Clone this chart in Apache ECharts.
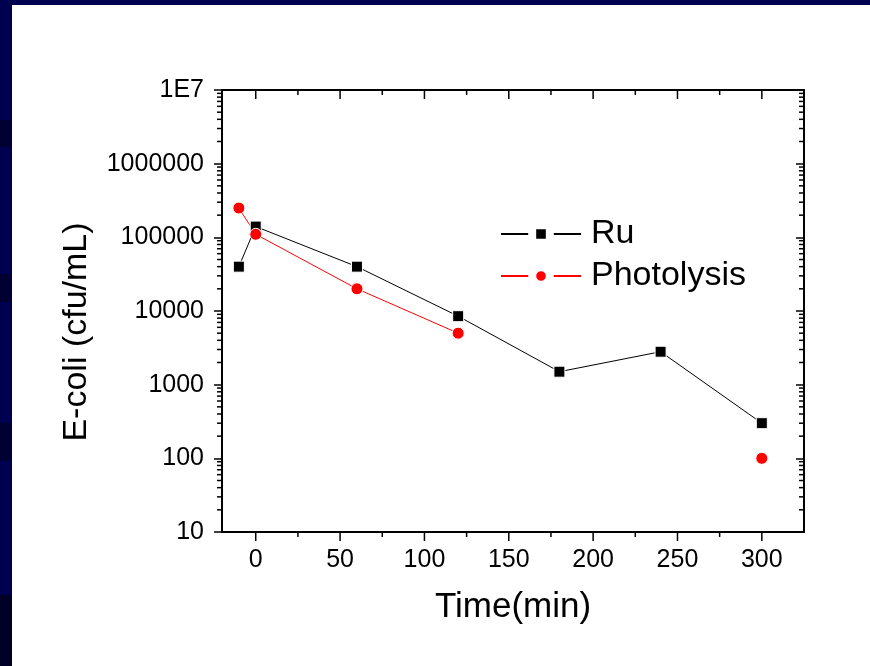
<!DOCTYPE html>
<html>
<head>
<meta charset="UTF-8">
<title>E-coli</title>
<script src="https://cdn.jsdelivr.net/npm/echarts@6/dist/echarts.min.js"></script>
<style>
html, body {
	margin: 0px;
	padding: 0px;
	width: 870px;
	height: 666px;
	overflow: hidden;
	background: #000050;
}
#panel {
	position: absolute;
	left: 12px;
	top: 5px;
	right: 0px;
	bottom: 0px;
	background: #ffffff;
}
.band {
	position: absolute;
	left: 0px;
	width: 12px;
	background: #000032;
}
#main {
	position: absolute;
	left: 0px;
	top: 0px;
	width: 870px;
	height: 666px;
}
</style>
</head>
<body>
<div class="band" style="top:120px;height:27px"></div>
<div class="band" style="top:274px;height:28px"></div>
<div class="band" style="top:423px;height:38px"></div>
<div class="band" style="top:595px;height:71px;background:#000026"></div>
<div id="panel"></div>
<div id="main"></div>
<script>
var times = [-10, 0, 60, 120, 180, 240, 300];
var ru = [40000, 140000, 40000, 8500, 1500, 2800, 300];
var photolysis = [250000, 110000, 20000, 5000, null, null, 100];

var yTickLabels = ['10', '100', '1000', '10000', '100000', '1000000', '1E7'];
var xMajorTicks = [0, 50, 100, 150, 200, 250, 300];
var xMinorTicks = [25, 75, 125, 175, 225, 275];
var decades = [10, 100, 1000, 10000, 100000, 1000000];
var minorSteps = [2, 3, 4, 5, 6, 7, 8, 9];

var font = "'Liberation Sans', Arial, sans-serif";

function pairs(ys) {
	return times.map(function (t, i) { return [t, ys[i]]; });
}

// minor ticks of the log axis (2..9 in each decade)
var yMinor = [];
decades.forEach(function (d) {
	minorSteps.forEach(function (m) { yMinor.push([0, d * m]); });
});

var xTicks = [];
xMajorTicks.forEach(function (t) { xTicks.push([t, 10, 9]); });
xMinorTicks.forEach(function (t) { xTicks.push([t, 10, 5]); });

function tickLine(x1, y1, x2, y2) {
	return { type: 'line', shape: { x1: x1, y1: y1, x2: x2, y2: y2 }, style: { stroke: '#000', lineWidth: 1.5 } };
}

var chart = echarts.init(document.getElementById('main'));
var option = {
	backgroundColor: 'transparent',
	animation: false,
	grid: { left: 222, top: 90, width: 582, height: 442 },
	legend: {
		data: ['Ru', 'Photolysis'],
		orient: 'vertical',
		left: 500,
		top: 217,
		padding: 0,
		itemWidth: 80,
		itemHeight: 22,
		itemGap: 8,
		selectedMode: false,
		itemStyle: { borderColor: '#fff', borderWidth: 8 },
		textStyle: { fontFamily: font, fontSize: 34, color: '#000', padding: [0, 0, 0, 5] }
	},
	xAxis: [{
		type: 'value',
		min: -20,
		max: 325,
		position: 'bottom',
		name: 'Time(min)',
		nameLocation: 'middle',
		nameGap: 58,
		nameTextStyle: { fontFamily: font, fontSize: 35, color: '#000' },
		axisLine: { onZero: false, lineStyle: { color: '#000', width: 2 } },
		axisTick: { show: false },
		splitLine: { show: false },
		axisLabel: { fontFamily: font, fontSize: 25, color: '#000', margin: 16, showMinLabel: false, showMaxLabel: false }
	}, {
		type: 'value',
		min: -20,
		max: 325,
		position: 'top',
		axisLine: { onZero: false, lineStyle: { color: '#000', width: 2 } },
		axisTick: { show: false },
		splitLine: { show: false },
		axisLabel: { show: false }
	}],
	yAxis: [{
		type: 'log',
		logBase: 10,
		min: 10,
		max: 10000000,
		splitNumber: 6,
		position: 'left',
		name: 'E-coli (cfu/mL)',
		nameLocation: 'middle',
		nameGap: 128,
		nameTextStyle: { fontFamily: font, fontSize: 34, color: '#000', padding: [0, 42, 0, 0] },
		axisLine: { onZero: false, lineStyle: { color: '#000', width: 2 } },
		axisTick: { length: 8, lineStyle: { color: '#000', width: 1.5 } },
		splitLine: { show: false },
		axisLabel: {
			fontFamily: font, fontSize: 25, color: '#000', margin: 18,
			formatter: function (v) {
				return yTickLabels[Math.round(Math.log10(v)) - 1];
			}
		}
	}, {
		type: 'log',
		logBase: 10,
		min: 10,
		max: 10000000,
		splitNumber: 6,
		position: 'right',
		axisLine: { onZero: false, lineStyle: { color: '#000', width: 2 } },
		axisTick: { inside: true, length: 8, lineStyle: { color: '#000', width: 1.5 } },
		splitLine: { show: false },
		axisLabel: { show: false }
	}],
	series: [{
		name: 'Ru',
		type: 'line',
		data: pairs(ru),
		symbol: 'rect',
		symbolSize: 11,
		itemStyle: { color: '#000', borderColor: '#fff', borderWidth: 1 },
		lineStyle: { color: '#000', width: 1 }
	}, {
		name: 'Photolysis',
		type: 'line',
		data: pairs(photolysis),
		symbol: 'circle',
		symbolSize: 12,
		itemStyle: { color: '#ff0000', borderColor: '#fff', borderWidth: 1 },
		lineStyle: { color: '#ff0000', width: 1 }
	}, {
		type: 'custom',
		silent: true,
		data: yMinor,
		renderItem: function (params, api) {
			var cs = params.coordSys;
			var y = api.coord([0, api.value(1)])[1];
			return {
				type: 'group',
				children: [
					tickLine(cs.x - 5, y, cs.x, y),
					tickLine(cs.x + cs.width - 5, y, cs.x + cs.width, y)
				]
			};
		}
	}, {
		type: 'custom',
		silent: true,
		data: xTicks,
		renderItem: function (params, api) {
			var cs = params.coordSys;
			var x = api.coord([api.value(0), 10])[0];
			var len = api.value(2);
			return {
				type: 'group',
				children: [
					tickLine(x, cs.y + cs.height, x, cs.y + cs.height + len),
					tickLine(x, cs.y, x, cs.y + len)
				]
			};
		}
	}]
};
chart.setOption(option);
</script>
</body>
</html>
